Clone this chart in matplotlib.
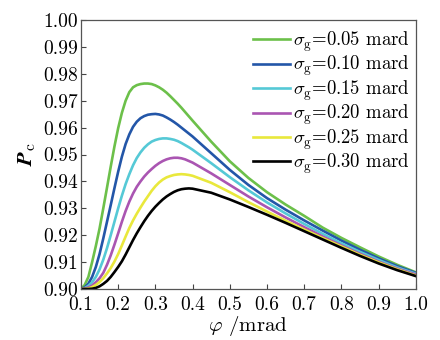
import numpy as np
import matplotlib
matplotlib.use("Agg")
import matplotlib.pyplot as plt

plt.rcParams['font.family'] = 'cmr10'
plt.rcParams['mathtext.fontset'] = 'cm'
plt.rcParams['axes.unicode_minus'] = False
plt.rcParams['axes.formatter.use_mathtext'] = True

# ---- Data ----
phi = [0.10, 0.11, 0.12, 0.13, 0.14, 0.15, 0.16, 0.17, 0.18, 0.19, 0.20,
       0.21, 0.22, 0.23, 0.24, 0.25, 0.26, 0.27, 0.28, 0.29, 0.30,
       0.31, 0.32, 0.33, 0.34, 0.35, 0.36, 0.37, 0.38, 0.39, 0.40,
       0.45, 0.50, 0.55, 0.60, 0.65, 0.70, 0.75, 0.80, 0.85, 0.90, 0.95, 1.00]

pc_005 = [0.9000, 0.9015, 0.9045, 0.9100, 0.9160, 0.9225, 0.9300, 0.9377, 0.9455, 0.9530, 0.9598,
          0.9655, 0.9700, 0.9732, 0.9750, 0.9758, 0.9762, 0.9764, 0.9764, 0.9762, 0.9757,
          0.9750, 0.9741, 0.9730, 0.9717, 0.9703, 0.9689, 0.9674, 0.9658, 0.9642, 0.9626,
          0.9548, 0.9475, 0.9413, 0.9360, 0.9314, 0.9272, 0.9228, 0.9190, 0.9155, 0.9121, 0.9090, 0.9062]
pc_010 = [0.9000, 0.9006, 0.9020, 0.9045, 0.9082, 0.9130, 0.9188, 0.9250, 0.9312, 0.9375, 0.9436,
          0.9492, 0.9539, 0.9575, 0.9603, 0.9622, 0.9635, 0.9643, 0.9648, 0.9650, 0.9651,
          0.9649, 0.9645, 0.9638, 0.9630, 0.9621, 0.9611, 0.9600, 0.9589, 0.9578, 0.9567,
          0.9505, 0.9443, 0.9387, 0.9338, 0.9295, 0.9255, 0.9217, 0.9180, 0.9146, 0.9114, 0.9085, 0.9060]
pc_015 = [0.9000, 0.9003, 0.9012, 0.9025, 0.9045, 0.9073, 0.9109, 0.9152, 0.9200, 0.9250, 0.9300,
          0.9347, 0.9390, 0.9427, 0.9460, 0.9487, 0.9508, 0.9525, 0.9538, 0.9548, 0.9554,
          0.9558, 0.9560, 0.9560, 0.9558, 0.9555, 0.9550, 0.9543, 0.9535, 0.9527, 0.9518,
          0.9468, 0.9416, 0.9367, 0.9322, 0.9281, 0.9242, 0.9205, 0.9170, 0.9138, 0.9108, 0.9080, 0.9057]
pc_020 = [0.9000, 0.9002, 0.9006, 0.9013, 0.9025, 0.9040, 0.9060, 0.9090, 0.9125, 0.9165, 0.9207,
          0.9250, 0.9290, 0.9325, 0.9355, 0.9380, 0.9400, 0.9418, 0.9433, 0.9446, 0.9458,
          0.9468, 0.9476, 0.9482, 0.9486, 0.9488, 0.9488, 0.9486, 0.9482, 0.9476, 0.9470,
          0.9430, 0.9387, 0.9344, 0.9304, 0.9266, 0.9230, 0.9195, 0.9162, 0.9131, 0.9102, 0.9076, 0.9054]
pc_025 = [0.9000, 0.9000, 0.9002, 0.9007, 0.9015, 0.9026, 0.9040, 0.9058, 0.9078, 0.9102, 0.9130,
          0.9162, 0.9195, 0.9227, 0.9255, 0.9280, 0.9303, 0.9325, 0.9345, 0.9365, 0.9382,
          0.9396, 0.9407, 0.9415, 0.9420, 0.9424, 0.9426, 0.9427, 0.9426, 0.9424, 0.9421,
          0.9395, 0.9360, 0.9323, 0.9288, 0.9254, 0.9221, 0.9189, 0.9158, 0.9127, 0.9099, 0.9073, 0.9050]
pc_030 = [0.9000, 0.9000, 0.9000, 0.9001, 0.9004, 0.9010, 0.9019, 0.9030, 0.9045, 0.9063, 0.9082,
          0.9103, 0.9128, 0.9155, 0.9182, 0.9207, 0.9230, 0.9252, 0.9272, 0.9290, 0.9306,
          0.9320, 0.9333, 0.9344, 0.9353, 0.9361, 0.9367, 0.9371, 0.9373, 0.9374, 0.9373,
          0.9358, 0.9333, 0.9305, 0.9276, 0.9246, 0.9215, 0.9184, 0.9153, 0.9123, 0.9095, 0.9070, 0.9048]

sigma_labels = ['0.05', '0.10', '0.15', '0.20', '0.25', '0.30']
series = [pc_005, pc_010, pc_015, pc_020, pc_025, pc_030]
colors = ['#6cc04a', '#2356a8', '#55c9d6', '#aa55b2', '#e9e83c', '#000000']

x_ticks = [0.1, 0.2, 0.3, 0.4, 0.5, 0.6, 0.7, 0.8, 0.9, 1.0]
y_ticks = [0.90, 0.91, 0.92, 0.93, 0.94, 0.95, 0.96, 0.97, 0.98, 0.99, 1.00]

# ---- Plot ----
fig = plt.figure(figsize=(4.4, 3.4), dpi=100)
ax = fig.add_axes([0.184, 0.150, 0.761, 0.791])

for vals, lab, col in zip(series, sigma_labels, colors):
    ax.plot(phi, vals, color=col, lw=1.9, solid_joinstyle='round',
            label=r'$\sigma_{\mathrm{g}}$=' + lab + ' mard')

ax.set_xlim(0.1, 1.0)
ax.set_ylim(0.90, 1.00)
ax.set_xticks(x_ticks)
ax.set_yticks(y_ticks)
ax.set_xticklabels([f'{t:.1f}' for t in x_ticks])
ax.set_yticklabels([f'{t:.2f}' for t in y_ticks])
ax.tick_params(direction='in', length=3.5, width=0.8, labelsize=14, pad=2,
               colors='#444444', labelcolor='black')
ax.tick_params(axis='x', pad=5)
ax.tick_params(top=False, right=False)
for s in ax.spines.values():
    s.set_color('#555555')
    s.set_linewidth(0.9)

ax.set_xlabel(r'$\varphi$ /mrad', fontsize=15, labelpad=0)
ax.set_ylabel(r'$\boldsymbol{P}_{\mathrm{c}}$', fontsize=16, labelpad=4)

ax.legend(loc='upper right', bbox_to_anchor=(1.0, 0.985), frameon=False,
          fontsize=13.5, handlelength=2.0, handletextpad=0.15,
          labelspacing=0.0, borderaxespad=0.1, borderpad=0.2)

fig.savefig('out.png', dpi=100)
